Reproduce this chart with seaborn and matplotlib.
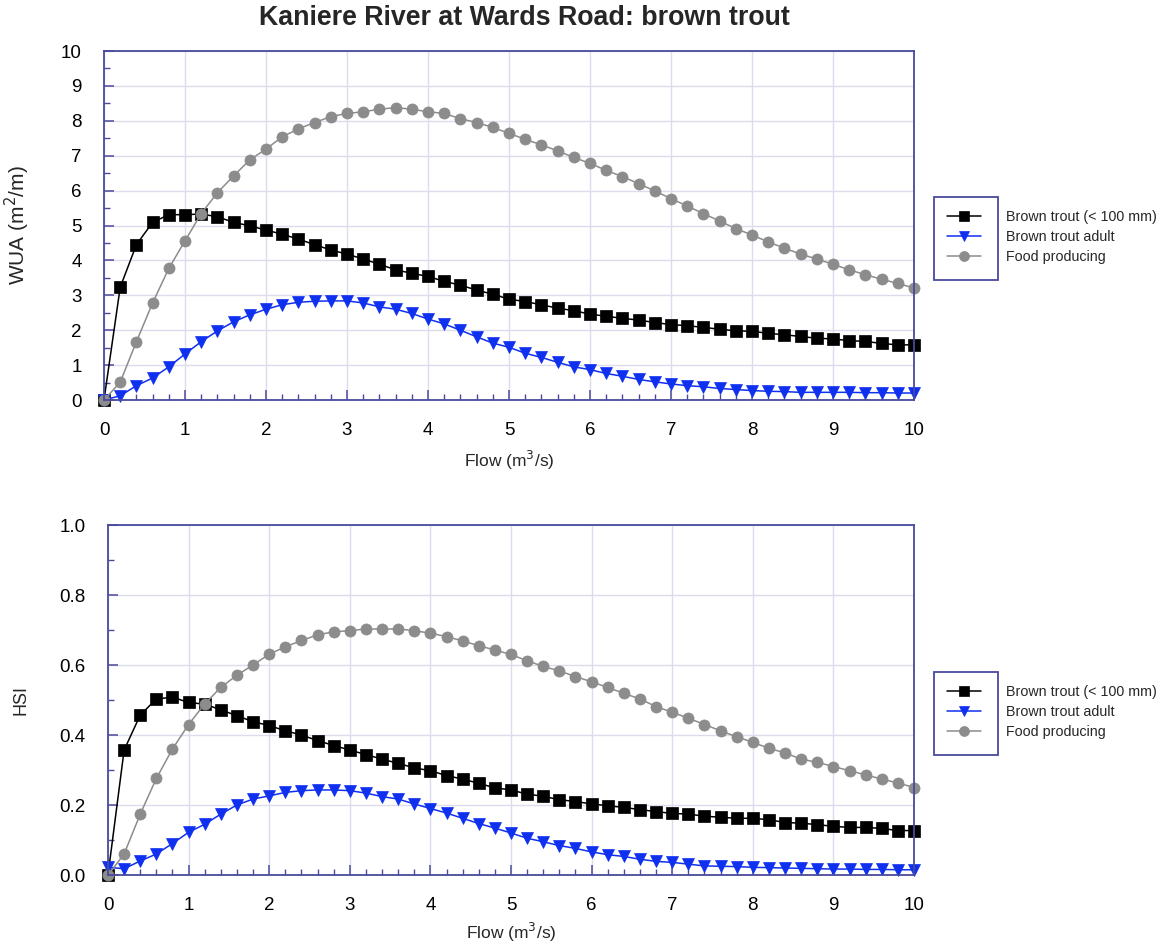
import matplotlib
matplotlib.use("Agg")
import matplotlib.pyplot as plt
from matplotlib.patches import Rectangle
from matplotlib.ticker import MultipleLocator
import seaborn as sns
import pandas as pd

flow = [0.0, 0.2, 0.4, 0.6, 0.8, 1.0, 1.2, 1.4, 1.6, 1.8,
        2.0, 2.2, 2.4, 2.6, 2.8, 3.0, 3.2, 3.4, 3.6, 3.8,
        4.0, 4.2, 4.4, 4.6, 4.8, 5.0, 5.2, 5.4, 5.6, 5.8,
        6.0, 6.2, 6.4, 6.6, 6.8, 7.0, 7.2, 7.4, 7.6, 7.8,
        8.0, 8.2, 8.4, 8.6, 8.8, 9.0, 9.2, 9.4, 9.6, 9.8, 10.0]

series_names = ["Brown trout (< 100 mm)", "Brown trout adult", "Food producing"]

wua_juvenile = [0, 3.23, 4.45, 5.09, 5.31, 5.31, 5.33, 5.25, 5.09, 4.99,
                4.87, 4.75, 4.61, 4.45, 4.30, 4.18, 4.04, 3.89, 3.73, 3.63,
                3.54, 3.40, 3.29, 3.15, 3.03, 2.89, 2.82, 2.73, 2.63, 2.56,
                2.46, 2.40, 2.34, 2.29, 2.22, 2.16, 2.13, 2.08, 2.03, 1.98,
                1.97, 1.91, 1.87, 1.82, 1.77, 1.75, 1.70, 1.68, 1.62, 1.58, 1.58]
wua_adult = [0, 0.12, 0.41, 0.63, 0.95, 1.32, 1.67, 1.98, 2.24, 2.44,
             2.60, 2.73, 2.80, 2.83, 2.84, 2.84, 2.78, 2.67, 2.60, 2.48,
             2.32, 2.18, 2.00, 1.81, 1.63, 1.51, 1.34, 1.22, 1.08, 0.95,
             0.87, 0.76, 0.68, 0.59, 0.52, 0.46, 0.41, 0.38, 0.33, 0.30,
             0.27, 0.25, 0.24, 0.22, 0.22, 0.22, 0.22, 0.21, 0.21, 0.20, 0.20]
wua_food = [0, 0.51, 1.67, 2.78, 3.77, 4.56, 5.34, 5.94, 6.42, 6.88,
            7.19, 7.54, 7.77, 7.95, 8.12, 8.21, 8.26, 8.33, 8.38, 8.33,
            8.26, 8.21, 8.06, 7.95, 7.81, 7.64, 7.47, 7.31, 7.14, 6.95,
            6.78, 6.58, 6.40, 6.20, 5.99, 5.77, 5.56, 5.34, 5.13, 4.91,
            4.73, 4.53, 4.35, 4.18, 4.04, 3.89, 3.73, 3.59, 3.46, 3.34, 3.21]

hsi_juvenile = [0, 0.357, 0.457, 0.503, 0.508, 0.493, 0.488, 0.472, 0.455, 0.438,
                0.427, 0.412, 0.400, 0.384, 0.370, 0.357, 0.344, 0.331, 0.319, 0.306,
                0.298, 0.284, 0.274, 0.262, 0.249, 0.243, 0.231, 0.225, 0.215, 0.210,
                0.203, 0.198, 0.193, 0.187, 0.181, 0.176, 0.174, 0.168, 0.165, 0.162,
                0.162, 0.158, 0.150, 0.148, 0.144, 0.139, 0.136, 0.136, 0.133, 0.127, 0.127]
hsi_adult = [0.022, 0.018, 0.040, 0.060, 0.090, 0.122, 0.145, 0.174, 0.200, 0.217,
             0.226, 0.236, 0.241, 0.243, 0.243, 0.241, 0.234, 0.224, 0.217, 0.203,
             0.190, 0.177, 0.162, 0.147, 0.134, 0.120, 0.105, 0.095, 0.084, 0.076,
             0.066, 0.058, 0.053, 0.045, 0.039, 0.036, 0.031, 0.026, 0.025, 0.024,
             0.022, 0.021, 0.020, 0.019, 0.018, 0.017, 0.017, 0.016, 0.016, 0.015, 0.015]
hsi_food = [0, 0.060, 0.174, 0.276, 0.360, 0.430, 0.489, 0.536, 0.571, 0.600,
            0.631, 0.652, 0.670, 0.686, 0.695, 0.698, 0.703, 0.703, 0.703, 0.698,
            0.691, 0.681, 0.669, 0.655, 0.643, 0.630, 0.612, 0.596, 0.583, 0.567,
            0.552, 0.536, 0.519, 0.503, 0.481, 0.465, 0.448, 0.430, 0.412, 0.395,
            0.379, 0.362, 0.349, 0.331, 0.322, 0.310, 0.298, 0.286, 0.274, 0.263, 0.250]

sns.set_theme(style="white")
plt.rcParams["font.family"] = ["Liberation Sans", "DejaVu Sans"]

NAVY = "#4a4a9c"
GRID = "#dcdcee"

styles = [
    dict(color="black", marker="s", markersize=8.5, mfc="black", mec="black"),
    dict(color="#1030f0", marker="v", markersize=8.5, mfc="#1030f0", mec="#1030f0"),
    dict(color="#8c8c8c", marker="o", markersize=8, mfc="#8c8c8c", mec="#8c8c8c"),
]

fig = plt.figure(figsize=(11.61, 9.46), dpi=100)
ax1 = fig.add_axes([104 / 1161, 1 - 400 / 946, 810 / 1161, 349 / 946])
ax2 = fig.add_axes([108 / 1161, 1 - 875 / 946, 806 / 1161, 350 / 946])

panels = [
    (ax1, [wua_juvenile, wua_adult, wua_food], (0, 10), 1, 0.5, "WUA (m$^2$/m)", "{:.0f}", 15),
    (ax2, [hsi_juvenile, hsi_adult, hsi_food], (0, 1.0), 0.2, 0.1, "HSI", "{:.1f}", 13),
]

for ax, values, ylim, ymaj, ymin, ylabel, fmt, ylsize in panels:
    for name, vals, st in zip(series_names, values, styles):
        df = pd.DataFrame({"Flow": flow, "Value": vals})
        sns.lineplot(data=df, x="Flow", y="Value", ax=ax, label=name,
                     color=st["color"], marker=st["marker"], markersize=st["markersize"],
                     markerfacecolor=st["mfc"], markeredgecolor=st["mec"],
                     markeredgewidth=0.5, linewidth=1.1, legend=False, clip_on=False)
    ax.set_xlim(0, 10)
    ax.set_ylim(*ylim)
    ax.xaxis.set_major_locator(MultipleLocator(1))
    ax.xaxis.set_minor_locator(MultipleLocator(0.2))
    ax.yaxis.set_major_locator(MultipleLocator(ymaj))
    ax.yaxis.set_minor_locator(MultipleLocator(ymin))
    ax.set_yticklabels([fmt.format(v) for v in ax.get_yticks()])
    ax.set_ylim(*ylim)
    ax.grid(True, which="major", color=GRID, linewidth=1.0)
    ax.set_axisbelow(True)
    for sp in ax.spines.values():
        sp.set_color(NAVY)
        sp.set_linewidth(1.3)
    ax.tick_params(axis="both", which="major", direction="in", length=7, width=1.1,
                   color=NAVY, labelsize=13.5, pad=16, labelcolor="black",
                   bottom=True, left=True, top=False, right=False)
    ax.tick_params(axis="both", which="minor", direction="in", length=4, width=1.0,
                   color=NAVY, bottom=True, left=True, top=False, right=False)
    ax.set_xlabel("Flow (m$^3$/s)", fontsize=12.5)
    ax.set_ylabel(ylabel, fontsize=ylsize)

ax1.yaxis.set_label_coords(-0.089, 0.5)
ax1.xaxis.set_label_coords(0.5, -0.14)
ax2.yaxis.set_label_coords(-0.097, 0.5)
ax2.xaxis.set_label_coords(0.5, -0.131)

fig.text(524 / 1161, 1 - 18 / 946, "Kaniere River at Wards Road: brown trout",
         ha="center", va="center", fontsize=19.3, fontweight="bold")

# legends: box drawn around the marker column only
for ax, box_top, row_mid in [(ax1, 197, 237), (ax2, 672, 712)]:
    handles, labels = ax.get_legend_handles_labels()
    fig.legend(handles, labels, loc="center left",
               bbox_to_anchor=(947 / 1161, 1 - row_mid / 946),
               bbox_transform=fig.transFigure, frameon=False, fontsize=10.25,
               handlelength=2.4, handletextpad=1.75, labelspacing=0.4,
               borderpad=0, borderaxespad=0, markerscale=0.9)
    fig.add_artist(Rectangle((934 / 1161, 1 - (box_top + 83) / 946), 64 / 1161, 83 / 946,
                             transform=fig.transFigure, fill=False,
                             edgecolor=NAVY, linewidth=1.3))

fig.savefig("out.png", dpi=100)
